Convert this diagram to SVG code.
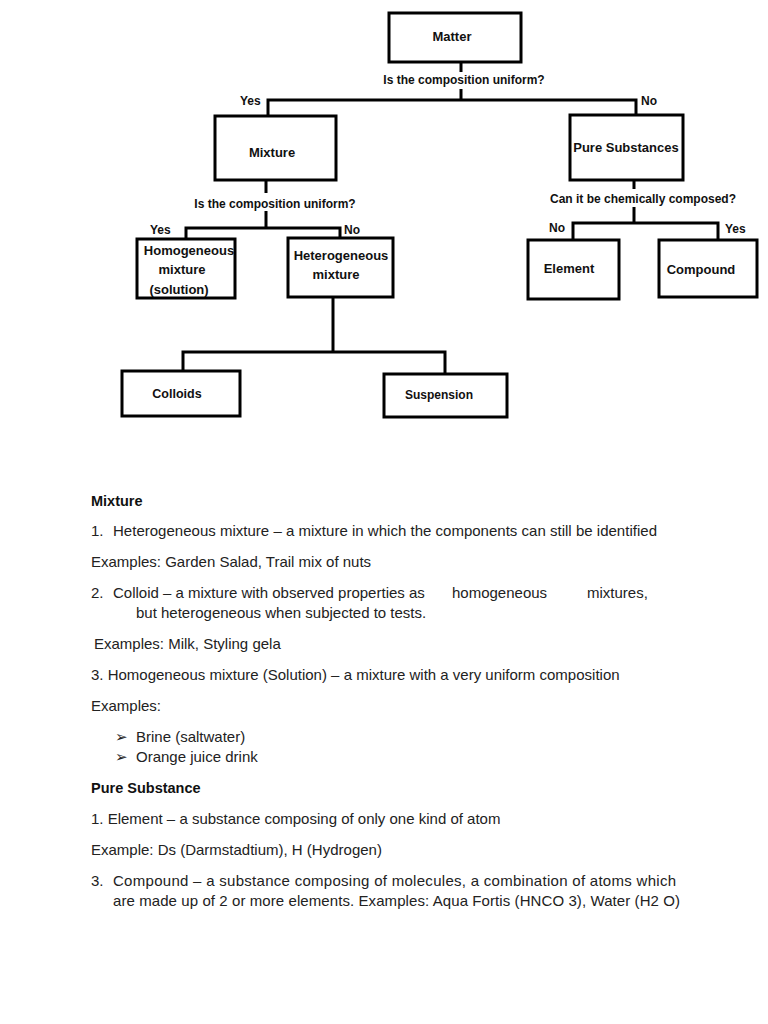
<svg xmlns="http://www.w3.org/2000/svg" width="768" height="1024" viewBox="0 0 768 1024">
<style>
.box{fill:#fff;stroke:#000;stroke-width:3}
.con{fill:none;stroke:#000;stroke-width:3}
.nt{font-family:"Liberation Sans",Arial,sans-serif;font-weight:bold;font-size:13px;fill:#111;text-anchor:middle}
.lb{font-family:"Liberation Sans",Arial,sans-serif;font-weight:bold;font-size:12px;fill:#111}
.mid{text-anchor:middle}
.bd{font-family:"Liberation Sans",Arial,sans-serif;font-size:15px;fill:#222}
.hd{font-family:"Liberation Sans",Arial,sans-serif;font-size:14.5px;font-weight:bold;fill:#111}
.bul{font-family:"DejaVu Sans",sans-serif;font-size:15px;fill:#222}
</style>
<rect width="768" height="1024" fill="#fff"/>
<g id="connectors">
<path class="con" d="M461,62 V72 M461,89 V100"/>
<path class="con" d="M268,116 V100 H636 V116"/>
<path class="con" d="M266,181 V193 M266,211 V228"/>
<path class="con" d="M186,238 V228 H340 V238"/>
<path class="con" d="M634,180 V189 M634,207 V223"/>
<path class="con" d="M573,240 V223 H718 V240"/>
<path class="con" d="M333,298 V352"/>
<path class="con" d="M183,371 V352 H445 V374"/>
<text class="lb mid" x="464" y="84">Is the composition uniform?</text>
<text class="lb" x="240" y="105">Yes</text>
<text class="lb" x="641" y="105">No</text>
<text class="lb mid" x="275" y="208">Is the composition uniform?</text>
<text class="lb" x="150" y="234">Yes</text>
<text class="lb" x="344" y="234">No</text>
<text class="lb mid" x="643" y="203">Can it be chemically composed?</text>
<text class="lb" x="549" y="232">No</text>
<text class="lb" x="725" y="233">Yes</text>
</g>
<g id="matter"><rect class="box" x="389" y="13" width="132" height="49"/><text class="nt" x="452" y="41">Matter</text></g>
<g id="mixture"><rect class="box" x="215" y="116" width="121" height="64"/><text class="nt" x="272" y="157">Mixture</text></g>
<g id="pure-substances"><rect class="box" x="570" y="115" width="113" height="65"/><text class="nt" x="626" y="152">Pure Substances</text></g>
<g id="homogeneous"><rect class="box" x="137" y="239" width="98" height="59"/><text class="nt" x="189" y="255">Homogeneous</text><text class="nt" x="182" y="274">mixture</text><text class="nt" x="179" y="294">(solution)</text></g>
<g id="heterogeneous"><rect class="box" x="288" y="238" width="105" height="59"/><text class="nt" x="341" y="260">Heterogeneous</text><text class="nt" x="336" y="279">mixture</text></g>
<g id="element"><rect class="box" x="528" y="240" width="91" height="59"/><text class="nt" x="569" y="273">Element</text></g>
<g id="compound"><rect class="box" x="659" y="240" width="98" height="57"/><text class="nt" x="701" y="274">Compound</text></g>
<g id="colloids"><rect class="box" x="122" y="371" width="118" height="45"/><text class="nt" x="177" y="398" style="font-size:12.5px">Colloids</text></g>
<g id="suspension"><rect class="box" x="384" y="374" width="123" height="43"/><text class="nt" x="439" y="399" style="font-size:12px">Suspension</text></g>
<g id="notes">
<text class="hd" x="91" y="506">Mixture</text>
<text class="bd" x="91" y="536">1.</text>
<text class="bd" x="113" y="536" textLength="544" lengthAdjust="spacing">Heterogeneous mixture – a mixture in which the components can still be identified</text>
<text class="bd" x="91" y="567">Examples: Garden Salad, Trail mix of nuts</text>
<text class="bd" x="91" y="598">2.</text>
<text class="bd" x="113" y="598">Colloid – a mixture with observed properties as</text>
<text class="bd" x="452" y="598">homogeneous</text>
<text class="bd" x="587" y="598">mixtures,</text>
<text class="bd" x="136" y="618">but heterogeneous when subjected to tests.</text>
<text class="bd" x="94" y="649">Examples: Milk, Styling gela</text>
<text class="bd" x="91" y="680">3. Homogeneous mixture (Solution) – a mixture with a very uniform composition</text>
<text class="bd" x="91" y="711">Examples:</text>
<text class="bul" x="115" y="742">➢</text>
<text class="bd" x="136" y="742">Brine (saltwater)</text>
<text class="bul" x="115" y="762">➢</text>
<text class="bd" x="136" y="762">Orange juice drink</text>
<text class="hd" x="91" y="793">Pure Substance</text>
<text class="bd" x="91" y="824">1. Element – a substance composing of only one kind of atom</text>
<text class="bd" x="91" y="855">Example: Ds (Darmstadtium), H (Hydrogen)</text>
<text class="bd" x="91" y="886">3.</text>
<text class="bd" x="113" y="886" textLength="563" lengthAdjust="spacing">Compound – a substance composing of molecules, a combination of atoms which</text>
<text class="bd" x="113" y="906" textLength="567" lengthAdjust="spacing">are made up of 2 or more elements. Examples: Aqua Fortis (HNCO 3), Water (H2 O)</text>
</g>
</svg>
